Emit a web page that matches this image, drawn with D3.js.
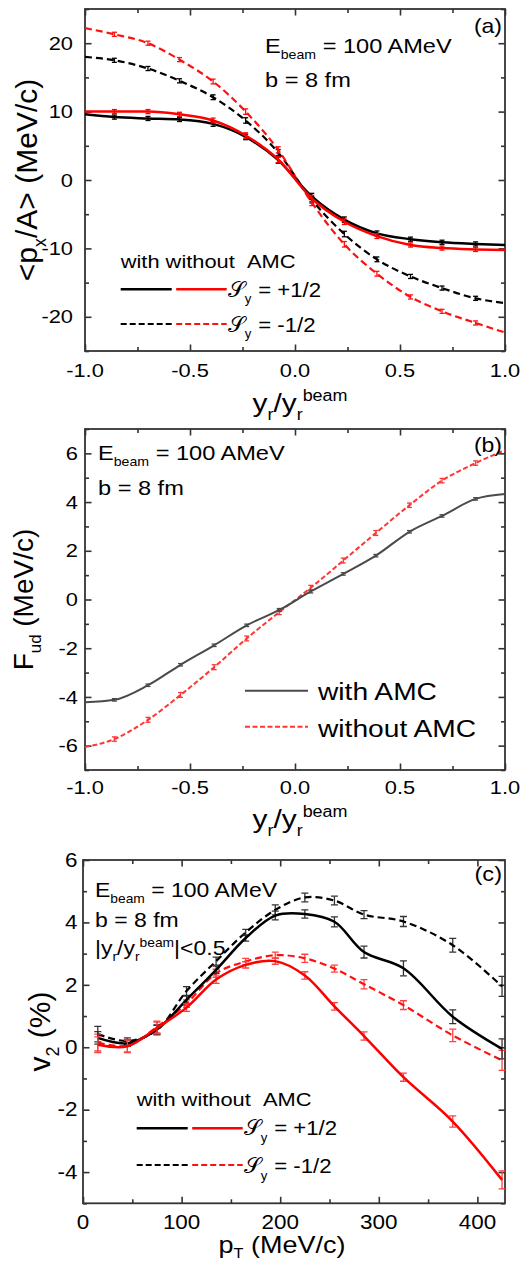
<!DOCTYPE html>
<html><head><meta charset="utf-8">
<script src="https://cdn.jsdelivr.net/npm/d3@7"></script>
<style>body{margin:0;background:#fff}svg{display:block;font-family:'Liberation Sans',Arial,sans-serif}</style>
</head><body><script>
// ---------------- Panel (a): <px/A> vs yr/yr_beam ----------------
const yrA = [-1, -0.86, -0.70, -0.55, -0.39, -0.235, -0.08, 0.08, 0.235, 0.39, 0.55, 0.70, 0.86, 1];
const pxWithPlus     = [9.6, 9.2, 9.0, 8.85, 8.2, 6.3, 2.9, -2.4, -5.8, -7.8, -8.65, -9.1, -9.35, -9.5];
const pxWithoutPlus  = [10.0, 10.0, 10.0, 9.6, 8.7, 6.5, 3.0, -2.7, -6.1, -8.2, -9.5, -9.95, -10.15, -10.25];
const pxWithMinus    = [18.0, 17.5, 16.3, 14.5, 12.1, 8.7, 4.0, -2.9, -7.9, -11.6, -14.1, -15.8, -17.3, -18.0];
const pxWithoutMinus = [22.2, 21.3, 20.0, 17.6, 14.4, 10.0, 4.4, -3.3, -9.4, -13.7, -17.1, -19.2, -20.9, -22.3];
const pxErr          = [0, 0.3, 0.3, 0.3, 0.35, 0.4, 0.45, 0.45, 0.4, 0.35, 0.3, 0.3, 0.3, 0];
const aXTicks = [-1, -0.5, 0, 0.5, 1];
const aXTickLabels = ["-1.0", "-0.5", "0.0", "0.5", "1.0"];
const aXMinor = [-0.75, -0.25, 0.25, 0.75];
const aYTicks = [-20, -10, 0, 10, 20];
const aYTickLabels = ["-20", "-10", "0", "10", "20"];
const aYMinor = [-25, -15, -5, 5, 15, 25];

// ---------------- Panel (b): F_ud vs yr/yr_beam ----------------
const yrB = [-1, -0.86, -0.70, -0.545, -0.385, -0.23, -0.075, 0.075, 0.23, 0.385, 0.545, 0.70, 0.86, 1];
const fudWith        = [-4.22, -4.12, -3.52, -2.68, -1.88, -1.06, -0.43, 0.33, 1.05, 1.8, 2.78, 3.43, 4.13, 4.33];
const fudWithout     = [-6.06, -5.73, -4.94, -3.92, -2.78, -1.6, -0.52, 0.48, 1.6, 2.73, 3.87, 4.88, 5.6, 6.13];
const fudErrWith     = [0, 0.05, 0.05, 0.05, 0.05, 0.05, 0.06, 0.06, 0.05, 0.05, 0.05, 0.05, 0.05, 0];
const fudErrWithout  = [0, 0.09, 0.1, 0.1, 0.1, 0.1, 0.1, 0.1, 0.1, 0.1, 0.09, 0.09, 0.09, 0];
const bYTicks = [-6, -4, -2, 0, 2, 4, 6];
const bYTickLabels = ["-6", "-4", "-2", "0", "2", "4", "6"];
const bYMinor = [-7, -5, -3, -1, 1, 3, 5, 7];

// ---------------- Panel (c): v2 vs pT ----------------
const pT = [15, 45, 75, 105, 135, 165, 195, 225, 255, 285, 325, 375, 425];
const v2WithPlus     = [0.3, 0.13, 0.57, 1.52, 2.48, 3.5, 4.22, 4.27, 4.02, 3.05, 2.53, 0.98, -0.05];
const v2WithoutPlus  = [0.08, 0.03, 0.62, 1.27, 2.17, 2.64, 2.76, 2.3, 1.31, 0.36, -0.96, -2.38, -4.25];
const v2WithMinus    = [0.42, 0.2, 0.55, 1.8, 2.76, 3.68, 4.4, 4.8, 4.7, 4.25, 4.03, 3.27, 1.95];
const v2WithoutMinus = [0.15, 0.05, 0.65, 1.4, 2.37, 2.75, 2.95, 2.85, 2.52, 2.02, 1.35, 0.38, -0.42];
const v2ErrWithPlus     = [0.2, 0.1, 0.15, 0.12, 0.12, 0.1, 0.14, 0.13, 0.16, 0.19, 0.24, 0.22, 0.32];
const v2ErrWithMinus    = [0.25, 0.1, 0.15, 0.14, 0.13, 0.1, 0.16, 0.14, 0.14, 0.13, 0.16, 0.22, 0.32];
const v2ErrWithoutPlus  = [0.25, 0.2, 0.19, 0.12, 0.12, 0.1, 0.1, 0.12, 0.12, 0.13, 0.13, 0.18, 0.29];
const v2ErrWithoutMinus = [0.27, 0.2, 0.19, 0.12, 0.13, 0.1, 0.1, 0.13, 0.11, 0.15, 0.14, 0.2, 0.32];
const cXTicks = [0, 100, 200, 300, 400];
const cXTickLabels = ["0", "100", "200", "300", "400"];
const cXMinor = [50, 150, 250, 350];
const cYTicks = [-4, -2, 0, 2, 4, 6];
const cYTickLabels = ["-4", "-2", "0", "2", "4", "6"];
const cYMinor = [-5, -3, -1, 1, 3, 5];

const SX = 1.15;
const svg = d3.select('body').append('svg').attr('width', 528).attr('height', 1264);

function rich(g, x, y, parts, size, opts = {}) {
  const sx = opts.sx ?? SX;
  const subShift = opts.subShift ?? 0.3;
  const t = g.append('text')
    .attr('transform', `translate(${x},${y})` + (opts.rotate ? ` rotate(${opts.rotate})` : '') + ` scale(${sx},1)`)
    .attr('font-size', size).attr('text-anchor', opts.anchor || 'start').attr('fill', opts.fill || '#000')
    .style('white-space', 'pre');
  let cur = 0;
  parts.forEach(p => {
    const [str, kind, fam] = Array.isArray(p) ? p : [p, 'n'];
    let target = 0, fs = size;
    if (kind === 'sub') { target = subShift * size; fs = size * 0.6; }
    if (kind === 'sup') { target = -0.42 * size; fs = size * 0.6; }
    const ts = t.append('tspan').attr('dy', target - cur).attr('font-size', fs).text(str);
    if (fam) ts.attr('font-family', fam);
    cur = target;
  });
  return t;
}

function panel(p) {
  const g = svg.append('g');
  const x = d3.scaleLinear().domain(p.xDomain).range([p.left, p.right]);
  const y = d3.scaleLinear().domain(p.yDomain).range([p.bottom, p.top]);
  const tickCol = '#333';
  const defs = [
    [d3.axisBottom, x, `translate(0,${p.bottom})`, p.xMajor, p.xMinor],
    [d3.axisTop, x, `translate(0,${p.top})`, p.xMajor, p.xMinor],
    [d3.axisLeft, y, `translate(${p.left},0)`, p.yMajor, p.yMinor],
    [d3.axisRight, y, `translate(${p.right},0)`, p.yMajor, p.yMinor]
  ];
  defs.forEach(([fn, sc, tr, maj, min]) => {
    [[min, -4], [maj, -6.5]].forEach(([vals, len]) => {
      const ax = g.append('g').attr('transform', tr)
        .call(fn(sc).tickValues(vals).tickSizeInner(len).tickSizeOuter(0).tickFormat(''));
      ax.select('.domain').remove();
      ax.selectAll('line').attr('stroke', tickCol).attr('stroke-width', 1.6);
    });
  });
  g.append('rect').attr('x', p.left).attr('y', p.top).attr('width', p.right - p.left)
    .attr('height', p.bottom - p.top).attr('fill', 'none').attr('stroke', tickCol).attr('stroke-width', 1.8);
  p.xMajor.forEach((v, i) => rich(g, x(v), p.bottom + p.xLabOff, [p.xLabels[i]], p.tickSize, { anchor: 'middle' }));
  p.yMajor.forEach((v, i) => rich(g, p.yLabX, y(v) + p.tickSize * 0.35, [p.yLabels[i]], p.tickSize, { anchor: 'end' }));
  const cid = 'clip' + p.id;
  svg.append('clipPath').attr('id', cid).append('rect')
    .attr('x', p.left).attr('y', p.top).attr('width', p.right - p.left).attr('height', p.bottom - p.top);
  const plot = g.append('g').attr('clip-path', `url(#${cid})`);
  p.series.forEach(s => {
    const pts = p.xs.map((xv, i) => [xv, s.values[i], s.err[i]]);
    const line = d3.line().x(d => x(d[0])).y(d => y(d[1])).curve(p.curve);
    const eg = plot.append('g').attr('stroke', s.errColor || s.color).attr('stroke-width', 1.3);
    pts.filter(d => d[2] > 0).forEach(d => {
      const cx = x(d[0]), y1 = y(d[1] - d[2]), y2 = y(d[1] + d[2]);
      eg.append('line').attr('x1', cx).attr('x2', cx).attr('y1', y1).attr('y2', y2);
      eg.append('line').attr('x1', cx - p.cap).attr('x2', cx + p.cap).attr('y1', y1).attr('y2', y1);
      eg.append('line').attr('x1', cx - p.cap).attr('x2', cx + p.cap).attr('y1', y2).attr('y2', y2);
    });
    plot.append('path').attr('d', line(pts)).attr('fill', 'none').attr('stroke', s.color)
      .attr('stroke-width', s.width).attr('stroke-dasharray', s.dash || null);
  });
  return { g, x, y };
}

// ---------- Panel (a) ----------
const A = panel({
  id: 'a', left: 85, right: 505, top: 9, bottom: 351,
  xDomain: [-1, 1], yDomain: [-25, 25],
  xMajor: aXTicks, xMinor: aXMinor, yMajor: aYTicks, yMinor: aYMinor,
  xLabels: aXTickLabels, yLabels: aYTickLabels,
  xLabOff: 25.5, yLabX: 73, tickSize: 19, cap: 2.5,
  xs: yrA, curve: d3.curveMonotoneX,
  series: [
    { values: pxWithMinus, err: pxErr, color: '#000', width: 2.2, dash: '7,4' },
    { values: pxWithoutMinus, err: pxErr, color: '#ff1010', width: 2.2, dash: '7,4' },
    { values: pxWithPlus, err: pxErr, color: '#000', width: 2.5 },
    { values: pxWithoutPlus, err: pxErr, color: '#ff0000', width: 2.5 }
  ]
});
rich(A.g, 502, 32.5, ['(a)'], 20, { anchor: 'end' });
rich(A.g, 265, 53, ['E', ['beam', 'sub'], ' = 100 AMeV'], 20.5);
rich(A.g, 265, 87, ['b = 8 fm'], 20.5);
rich(A.g, 37, 180, ['<p', ['x', 'sub'], '/A> (MeV/c)'], 30, { anchor: 'middle', rotate: -90, sx: 1 });
rich(A.g, 300, 412, ['y', ['r', 'sub'], '/y', ['r', 'sub'], ['beam', 'sup']], 26, { anchor: 'middle' });

// ---------- Panel (b) ----------
const B = panel({
  id: 'b', left: 85, right: 505, top: 429, bottom: 770,
  xDomain: [-1, 1], yDomain: [-7, 7],
  xMajor: aXTicks, xMinor: aXMinor, yMajor: bYTicks, yMinor: bYMinor,
  xLabels: aXTickLabels, yLabels: bYTickLabels,
  xLabOff: 24, yLabX: 78, tickSize: 19, cap: 2.5,
  xs: yrB, curve: d3.curveMonotoneX,
  series: [
    { values: fudWithout, err: fudErrWithout, color: '#ff3535', width: 2, dash: '5,2.5' },
    { values: fudWith, err: fudErrWith, color: '#4a4a4a', width: 2 }
  ]
});
rich(B.g, 502, 451.5, ['(b)'], 20, { anchor: 'end' });
rich(B.g, 98, 459.5, ['E', ['beam', 'sub'], ' = 100 AMeV'], 20.5);
rich(B.g, 98, 495, ['b = 8 fm'], 20.5);
rich(B.g, 33, 599.5, ['F', ['ud', 'sub'], ' (MeV/c)'], 28, { anchor: 'middle', rotate: -90, sx: 1 });
rich(B.g, 300, 828, ['y', ['r', 'sub'], '/y', ['r', 'sub'], ['beam', 'sup']], 26, { anchor: 'middle' });
B.g.append('line').attr('x1', 245).attr('x2', 308).attr('y1', 690.7).attr('y2', 690.7).attr('stroke', '#4a4a4a').attr('stroke-width', 2);
B.g.append('line').attr('x1', 245).attr('x2', 308).attr('y1', 726.7).attr('y2', 726.7).attr('stroke', '#ff3535').attr('stroke-width', 2).attr('stroke-dasharray', '5,2.5');
rich(B.g, 318, 700, ['with AMC'], 24.5);
rich(B.g, 318, 736.5, ['without AMC'], 24.5);

// ---------- Spin legends ----------
function spinLegend(g, x0, yHead, y1, y2, base1, base2) {
  rich(g, x0, yHead, ['with without\u00a0\u00a0AMC'], 19);
  g.append('line').attr('x1', x0).attr('x2', x0 + 51).attr('y1', y1).attr('y2', y1).attr('stroke', '#000').attr('stroke-width', 2.5);
  g.append('line').attr('x1', x0 + 55.5).attr('x2', x0 + 106).attr('y1', y1).attr('y2', y1).attr('stroke', '#ff0000').attr('stroke-width', 2.5);
  g.append('line').attr('x1', x0).attr('x2', x0 + 51).attr('y1', y2).attr('y2', y2).attr('stroke', '#000').attr('stroke-width', 2.2).attr('stroke-dasharray', '6,3');
  g.append('line').attr('x1', x0 + 55.5).attr('x2', x0 + 106).attr('y1', y2).attr('y2', y2).attr('stroke', '#ff1010').attr('stroke-width', 2.2).attr('stroke-dasharray', '6,3');
  [[base1, '= +1/2'], [base2, '= -1/2']].forEach(([b, s]) => {
    rich(g, x0 + 107, b, [['𝒮', 'n', "'DejaVu Serif','DejaVu Sans',serif"], ['y', 'sub']], 22, { sx: 1 });
    rich(g, x0 + 137.5, b, [s], 19.3);
  });
}
spinLegend(A.g, 120.7, 268, 289.3, 324, 296.5, 331.5);

// ---------- Panel (c) ----------
const C = panel({
  id: 'c', left: 83, right: 505, top: 860, bottom: 1203.3,
  xDomain: [0, 428], yDomain: [-5, 6],
  xMajor: cXTicks, xMinor: cXMinor, yMajor: cYTicks, yMinor: cYMinor,
  xLabels: cXTickLabels, yLabels: cYTickLabels,
  xLabOff: 25.5, yLabX: 77.5, tickSize: 19.5, cap: 3.5,
  xs: pT, curve: d3.curveCatmullRom.alpha(0.5),
  series: [
    { values: v2WithMinus, err: v2ErrWithMinus, color: '#000', errColor: '#333', width: 2.2, dash: '7,4' },
    { values: v2WithoutMinus, err: v2ErrWithoutMinus, color: '#ff1010', errColor: '#ff4040', width: 2.2, dash: '7,4' },
    { values: v2WithPlus, err: v2ErrWithPlus, color: '#000', errColor: '#333', width: 2.5 },
    { values: v2WithoutPlus, err: v2ErrWithoutPlus, color: '#ff0000', errColor: '#ff4040', width: 2.5 }
  ]
});
rich(C.g, 502, 881, ['(c)'], 20.5, { anchor: 'end' });
rich(C.g, 95, 897, ['E', ['beam', 'sub'], ' = 100 AMeV'], 20);
rich(C.g, 95, 926.5, ['b = 8 fm'], 20);
rich(C.g, 95, 955, ['|y', ['r', 'sub'], '/y', ['r', 'sub'], ['beam', 'sup'], '|<0.5'], 20);
rich(C.g, 50, 1031.5, ['v', ['2', 'sub'], ' (%)'], 30, { anchor: 'middle', rotate: -90, sx: 1 });
rich(C.g, 282, 1253, ['p', ['T', 'sub'], ' (MeV/c)'], 23.5, { anchor: 'middle', subShift: 0.22 });
spinLegend(C.g, 136.7, 1106, 1128.3, 1165, 1135, 1173);
</script></body></html>
